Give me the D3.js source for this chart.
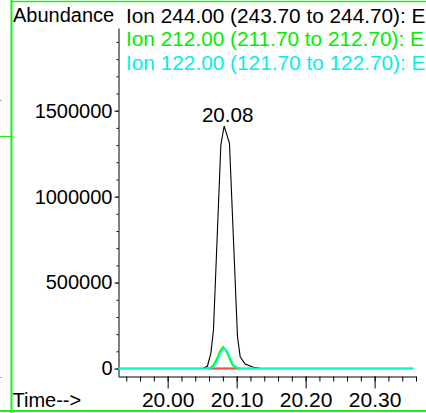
<!DOCTYPE html>
<html>
<head>
<meta charset="utf-8">
<script src="https://cdn.jsdelivr.net/npm/d3@7"></script>
<style>
  html, body { margin: 0; padding: 0; background: #fff; }
  svg { display: block; font-family: "Liberation Sans", Arial, sans-serif; }
</style>
</head>
<body>
<svg id="chart" width="426" height="413"></svg>
<script>
// Extracted ion chromatogram traces (retention time in minutes, abundance)
const ion244Time = [19.928, 20.040, 20.0519, 20.0577, 20.0626, 20.0664, 20.0771, 20.0819, 20.0896, 20.1012, 20.1051, 20.1123, 20.1243, 20.1341, 20.150, 20.356];
const ion244Abund = [0, 0, 1200, 14500, 88400, 224000, 1300500, 1411000, 1310400, 185000, 68700, 26200, 7000, 1200, 0, 0];

const ion212Time = [19.928, 20.040, 20.0543, 20.0616, 20.0659, 20.0713, 20.0761, 20.0804, 20.0848, 20.0896, 20.0942, 20.0993, 20.1041, 20.120, 20.356];
const ion212Abund = [0, 0, 0, 3000, 15000, 55000, 100000, 124000, 105000, 60000, 20000, 5000, 0, 0, 0];

const ion122Time = [19.928, 20.040, 20.0559, 20.0632, 20.0678, 20.0727, 20.0775, 20.0822, 20.0864, 20.0910, 20.0956, 20.1007, 20.1055, 20.120, 20.356];
const ion122Abund = [0, 0, 0, 2000, 12000, 50000, 95000, 118000, 104000, 62000, 23000, 6000, 0, 0, 0];

// Integration baseline under the peak
const baselineTime = [20.0587, 20.1047];
const baselineAbund = [0, 0];

const legendLabels = [
  "Ion 244.00 (243.70 to 244.70): E",
  "Ion 212.00 (211.70 to 212.70): E",
  "Ion 122.00 (121.70 to 122.70): E"
];
const xMajorTicks = [20.00, 20.10, 20.20, 20.30];
const yMajorTicks = [0, 500000, 1000000, 1500000];

const svg = d3.select("#chart");
const FONT = "Liberation Sans, Arial, sans-serif";

const x = d3.scaleLinear().domain([19.928, 20.36]).range([118, 416]);
const y = d3.scaleLinear().domain([-43600, 1981000]).range([376, 28]);

// frame
const frameColor = "#1cf01c";
svg.append("line").attr("x1", 11.5).attr("x2", 11.5).attr("y1", 0).attr("y2", 413)
  .attr("stroke", frameColor).attr("stroke-width", 2);
svg.append("line").attr("x1", 11).attr("x2", 426).attr("y1", 1.5).attr("y2", 1.5)
  .attr("stroke", frameColor).attr("stroke-width", 1.5);
svg.append("line").attr("x1", 0).attr("x2", 426).attr("y1", 411).attr("y2", 411)
  .attr("stroke", frameColor).attr("stroke-width", 2);
svg.append("line").attr("x1", 0).attr("x2", 11).attr("y1", 136.5).attr("y2", 136.5)
  .attr("stroke", frameColor).attr("stroke-width", 1.2);
svg.append("line").attr("x1", 0).attr("x2", 1.5).attr("y1", 100.5).attr("y2", 100.5)
  .attr("stroke", "#999").attr("stroke-width", 1);
svg.append("line").attr("x1", 0).attr("x2", 1.5).attr("y1", 377.5).attr("y2", 377.5)
  .attr("stroke", "#999").attr("stroke-width", 1);

// y axis: minor then major ticks
const yMinor = d3.range(0, 1900001, 100000);
svg.append("g").attr("transform", "translate(118.5,0)")
  .call(d3.axisLeft(y).tickValues(yMinor).tickSize(2).tickSizeOuter(0).tickFormat(""))
  .call(g => g.select(".domain").remove())
  .call(g => g.selectAll("line").attr("stroke", "#000"));
const yAxis = svg.append("g").attr("transform", "translate(118.5,0)")
  .call(d3.axisLeft(y).tickValues(yMajorTicks).tickSize(4).tickSizeOuter(0).tickPadding(2).tickFormat(d3.format("d")));
yAxis.selectAll("text").attr("font-size", 20).attr("font-family", FONT).attr("fill", "#000");
yAxis.select(".domain").attr("stroke", "#000");

// x axis: minor then major ticks
const xMinor = d3.range(0, 22).map(i => +(19.94 + i * 0.02).toFixed(2));
svg.append("g").attr("transform", "translate(0,376.5)")
  .call(d3.axisBottom(x).tickValues(xMinor).tickSize(5).tickSizeOuter(0).tickFormat(""))
  .call(g => g.select(".domain").remove());
const xAxis = svg.append("g").attr("transform", "translate(0,376.5)")
  .call(d3.axisBottom(x).tickValues(xMajorTicks).tickSize(12).tickSizeOuter(0).tickPadding(4).tickFormat(d3.format(".2f")));
xAxis.selectAll("text").attr("font-size", 21).attr("font-family", FONT).attr("fill", "#000");
xAxis.select(".domain").attr("stroke", "#000");

// traces
const line = d3.line().x(d => x(d[0])).y(d => y(d[1]));
const zip = (a, b) => a.map((t, i) => [t, b[i]]);

svg.append("path").datum(zip(ion244Time, ion244Abund))
  .attr("d", line).attr("fill", "none").attr("stroke", "#000").attr("stroke-width", 1.1);
svg.append("path").datum(zip(baselineTime, baselineAbund))
  .attr("d", line).attr("fill", "none").attr("stroke", "#f05050").attr("stroke-width", 2.2);
svg.append("path").datum(zip(ion212Time, ion212Abund))
  .attr("d", line).attr("fill", "none").attr("stroke", "#00ff00").attr("stroke-width", 2);
svg.append("path").datum(zip(ion122Time, ion122Abund))
  .attr("d", line).attr("fill", "none").attr("stroke", "#00ffff").attr("stroke-width", 1.6).attr("stroke-opacity", 0.75);

// peak retention time label
const peakIdx = d3.maxIndex(ion244Abund);
svg.append("text")
  .attr("x", x(ion244Time[peakIdx]) + 3.5)
  .attr("y", 121.5)
  .attr("text-anchor", "middle")
  .attr("font-size", 20.6)
  .text(d3.format(".2f")(ion244Time[peakIdx]));

// axis titles
svg.append("text").attr("x", 13).attr("y", 21.5).attr("font-size", 20).text("Abundance");
svg.append("text").attr("x", 12.5).attr("y", 407).attr("font-size", 20).text("Time-->");

// legend
const legendColors = ["#000", "#00ee00", "#00f0f0"];
legendLabels.forEach((t, i) => {
  svg.append("text").attr("x", 126).attr("y", 22.5 + i * 23.5)
    .attr("font-size", 20.8).attr("fill", legendColors[i]).text(t);
});
</script>
</body>
</html>
